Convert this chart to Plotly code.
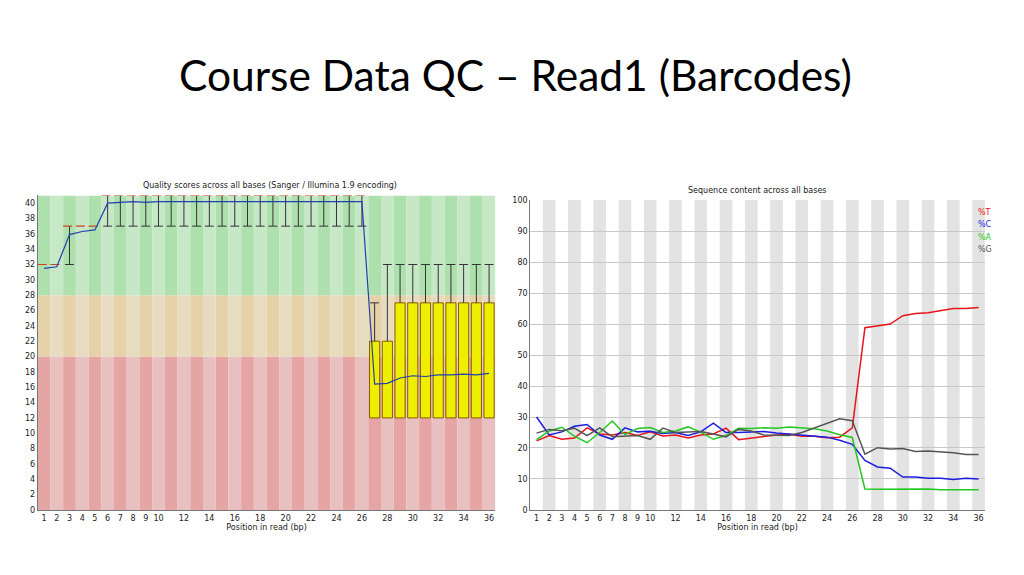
import plotly.graph_objects as go

positions = list(range(1, 37))
tick_positions = list(range(1, 11)) + list(range(12, 37, 2))

# quality plot (per base)
q_mean = [31.5, 31.7, 35.9, 36.3, 36.5, 40.0, 40.1, 40.2, 40.1, 40.2, 40.2, 40.2,
          40.2, 40.2, 40.2, 40.2, 40.2, 40.2, 40.2, 40.2, 40.2, 40.2, 40.2, 40.2,
          40.2, 40.2, 16.4, 16.5, 17.2, 17.5, 17.4, 17.6, 17.6, 17.7, 17.6, 17.8]
q_low = [32, 32, 32, 37, 37] + [37] * 21 + [12] * 10
q_high = [32, 32, 37, 37, 37] + [41] * 21 + [27, 32] + [32] * 8
q_q1 = [32, 32, 37, 37, 37] + [41] * 21 + [12] * 10
q_q3 = [32, 32, 37, 37, 37] + [41] * 21 + [22, 22] + [27] * 8
q_median = [32, 32, 37, 37, 37] + [41] * 21 + [None] * 10

# sequence content
pct_t = [22.3, 24.0, 22.8, 23.2, 26.5, 24.5, 24.2, 25.0, 24.0, 25.2, 23.9, 24.2,
         23.2, 24.2, 24.5, 26.4, 22.7, 23.2, 23.8, 24.2, 24.4, 23.8, 23.8, 23.3,
         23.5, 26.5, 58.8, 59.4, 60.0, 62.7, 63.4, 63.6, 64.4, 65.0, 65.0, 65.3]
pct_c = [30.0, 24.2, 25.2, 27.0, 27.6, 24.2, 22.8, 26.5, 25.2, 25.4, 24.7, 25.0,
         24.0, 25.2, 28.0, 25.0, 25.0, 25.2, 25.3, 24.8, 24.5, 24.0, 23.8, 23.5,
         22.5, 21.2, 16.0, 13.9, 13.5, 10.6, 10.6, 10.2, 10.2, 9.8, 10.2, 10.0]
pct_a = [22.7, 25.5, 26.7, 23.8, 21.7, 25.0, 28.7, 24.3, 26.3, 26.6, 25.0, 25.5,
         26.8, 25.1, 22.8, 24.0, 26.4, 26.3, 26.5, 26.4, 26.8, 26.5, 26.2, 25.5,
         24.3, 23.4, 6.8, 6.7, 6.7, 6.7, 6.8, 6.8, 6.5, 6.5, 6.6, 6.5]
pct_g = [24.8, 26.0, 25.6, 26.4, 24.0, 26.5, 23.6, 23.8, 24.0, 22.8, 26.4, 25.0,
         25.2, 25.3, 24.5, 23.6, 26.0, 25.5, 24.2, 24.2, 24.0, 25.0, 26.5, 27.8,
         29.4, 28.8, 18.0, 20.1, 19.7, 19.8, 18.9, 19.0, 18.8, 18.5, 17.9, 17.9]
bases = [("%T", pct_t, "#e8141c"), ("%C", pct_c, "#1c1ce0"),
         ("%A", pct_a, "#22c822"), ("%G", pct_g, "#555555")]

fig = go.Figure()

# background stripes
shapes = []
zones = [(0, 20, "#e6a5a5", "#e8c0c0"), (20, 28, "#e6d2a8", "#e8dcc0"),
         (28, 41, "#aee0ae", "#c6e8c6")]
for p in positions:
    for y0, y1, dark, light in zones:
        shapes.append(dict(type="rect", xref="x", yref="y", x0=p - 0.5, x1=p + 0.5,
                           y0=y0, y1=y1, fillcolor=dark if p % 2 else light,
                           line_width=0, layer="below"))
    if p % 2 == 0:
        shapes.append(dict(type="rect", xref="x2", yref="y2", x0=p - 0.5, x1=p + 0.5,
                           y0=0, y1=100, fillcolor="#e3e3e3", line_width=0, layer="below"))

# yellow boxes
box_x = [p for p, a, b in zip(positions, q_q1, q_q3) if b > a]
fig.add_trace(go.Bar(x=box_x, base=[q_q1[p - 1] for p in box_x],
                     y=[q_q3[p - 1] - q_q1[p - 1] for p in box_x], width=0.8,
                     marker=dict(color="#eeee00", line=dict(color="#8a5a00", width=1)),
                     xaxis="x", yaxis="y", showlegend=False))

# whiskers
wx, wy = [], []
for p, lo, hi, q1, q3 in zip(positions, q_low, q_high, q_q1, q_q3):
    if hi > q3:
        wx += [p, p, None, p - 0.35, p + 0.35, None]
        wy += [q3, hi, None, hi, hi, None]
    if lo < q1:
        wx += [p, p, None, p - 0.35, p + 0.35, None]
        wy += [q1, lo, None, lo, lo, None]
fig.add_trace(go.Scatter(x=wx, y=wy, mode="lines", line=dict(color="#333333", width=1),
                         xaxis="x", yaxis="y", showlegend=False))

# medians
mx, my = [], []
for p, m in zip(positions, q_median):
    if m is not None:
        mx += [p - 0.5, p + 0.5, None]
        my += [m, m, None]
fig.add_trace(go.Scatter(x=mx, y=my, mode="lines",
                         line=dict(color="#d04020", width=1.2, dash="dash"),
                         xaxis="x", yaxis="y", showlegend=False))

fig.add_trace(go.Scatter(x=positions, y=q_mean, mode="lines",
                         line=dict(color="#2040b0", width=1.2),
                         xaxis="x", yaxis="y", showlegend=False))

for name, vals, col in bases:
    fig.add_trace(go.Scatter(x=positions, y=vals, mode="lines", name=name,
                             line=dict(color=col, width=1.5),
                             xaxis="x2", yaxis="y2", showlegend=False))

tick_font = dict(family="DejaVu Sans", size=8, color="#222222")
axis_common = dict(tickmode="array", tickvals=tick_positions, range=[0.5, 36.5],
                   showgrid=False, zeroline=False, showline=True, linecolor="#777777",
                   ticks="", tickfont=tick_font, automargin=False,
                   title=dict(text="Position in read (bp)", font=tick_font, standoff=2))

annotations = [
    dict(text="Course Data QC – Read1 (Barcodes)", x=0.496, y=0.884, xref="paper",
         yref="paper", showarrow=False, xanchor="center", yanchor="middle",
         font=dict(family="Lato", size=42.5, color="#000000")),
    dict(text="Quality scores across all bases (Sanger / Illumina 1.9 encoding)",
         x=0.256, y=0.691, xref="paper", yref="paper", showarrow=False,
         xanchor="center", yanchor="middle", font=tick_font),
    dict(text="Sequence content across all bases", x=0.732, y=0.682, xref="paper",
         yref="paper", showarrow=False, xanchor="center", yanchor="middle",
         font=tick_font),
]
for i, (name, vals, col) in enumerate(bases):
    annotations.append(dict(text=name, x=35.8, y=96 - i * 4, xref="x2", yref="y2",
                            showarrow=False, xanchor="left", yanchor="middle",
                            font=dict(family="DejaVu Sans", size=8, color=col)))

fig.update_layout(
    width=1024, height=575, margin=dict(l=0, r=0, t=0, b=0),
    paper_bgcolor="white", plot_bgcolor="white", barmode="overlay",
    shapes=shapes, annotations=annotations,
    xaxis=dict(domain=[0.029, 0.476], anchor="y", **axis_common),
    yaxis=dict(domain=[0.127, 0.674], anchor="x", range=[0, 41], dtick=2,
               showgrid=False, zeroline=False, showline=True, linecolor="#777777",
               tickfont=tick_font, automargin=False),
    xaxis2=dict(domain=[0.510, 0.954], anchor="y2", **axis_common),
    yaxis2=dict(domain=[0.127, 0.666], anchor="x2", range=[0, 100], dtick=10,
                showgrid=True, gridcolor="#c8c8c8", zeroline=False, showline=True,
                linecolor="#777777", tickfont=tick_font, automargin=False),
)

fig.write_html("out.html")
